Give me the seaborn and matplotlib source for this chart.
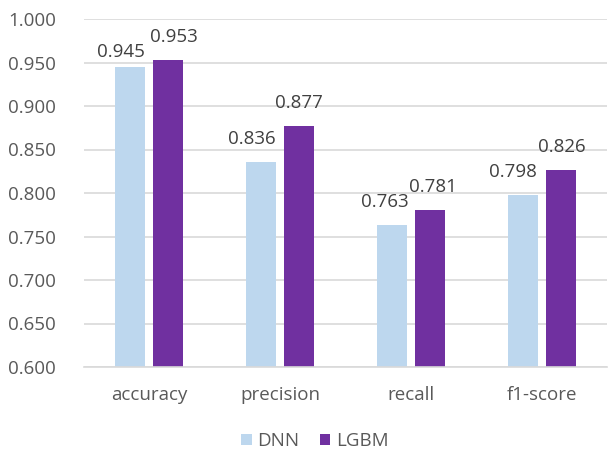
import matplotlib
matplotlib.use("Agg")
import matplotlib.pyplot as plt
import seaborn as sns
import pandas as pd

metrics = ["accuracy", "precision", "recall", "f1-score"]
dnn = [0.945, 0.836, 0.763, 0.798]
lgbm = [0.953, 0.877, 0.781, 0.826]
models = ["DNN", "LGBM"]
colors = ["#BDD7EE", "#7030A0"]

df = pd.DataFrame({
    "metric": metrics * 2,
    "model": [models[0]] * 4 + [models[1]] * 4,
    "score": dnn + lgbm,
})

sns.set_theme(style="white")
plt.rcParams["font.family"] = ["Open Sans", "DejaVu Sans"]

W, H = 608, 450
fig = plt.figure(figsize=(W / 100, H / 100), dpi=100)
ax = fig.add_axes([84 / W, 1 - 367 / H, (607 - 84) / W, 348 / H])

sns.barplot(data=df, x="metric", y="score", hue="model", palette=colors,
            saturation=1, width=0.58, gap=0.21, linewidth=0, ax=ax,
            legend=True)

ax.set_ylim(0.6, 1.0)
ticks = [0.6 + 0.05 * i for i in range(9)]
ax.set_yticks(ticks)
ax.set_yticklabels([f"{t:.3f}" for t in ticks])
ax.grid(axis="y", color="#D9D9D9", linewidth=1.2)
ax.set_axisbelow(True)
for s in ["top", "right", "left"]:
    ax.spines[s].set_visible(False)
ax.spines["bottom"].set_color("#D9D9D9")
ax.spines["bottom"].set_linewidth(1.2)
ax.tick_params(axis="both", length=0, labelsize=13.5, colors="#595959")
ax.tick_params(axis="y", pad=20)
ax.tick_params(axis="x", pad=14)
ax.set_xlabel("")
ax.set_ylabel("")

# value labels: DNN labels nudged left so they clear the LGBM labels
nudges = {0: [(-7, 4), (-7, 10), (-5, 10), (-7, 10)],
          1: [(4, 10), (0, 10), (2, 10), (1, 10)]}
for ci, cont in enumerate(ax.containers):
    for bi, bar in enumerate(cont):
        val = bar.get_height()
        dx, dy = nudges[ci][bi]
        ax.annotate(f"{val:.3f}",
                    (bar.get_x() + bar.get_width() / 2, val),
                    xytext=(dx, dy), textcoords="offset points",
                    ha="center", va="bottom", fontsize=13.5, color="#404040")

handles, labels = ax.get_legend_handles_labels()
ax.get_legend().remove()
leg = fig.legend(handles, labels, loc="center", bbox_to_anchor=(315 / W, 1 - 441 / H),
                 ncol=2, frameon=False, fontsize=13.5, handlelength=0.55,
                 handleheight=0.55, handletextpad=0.3, columnspacing=1.1)
for t in leg.get_texts():
    t.set_color("#595959")

fig.savefig("out.png", dpi=100)
